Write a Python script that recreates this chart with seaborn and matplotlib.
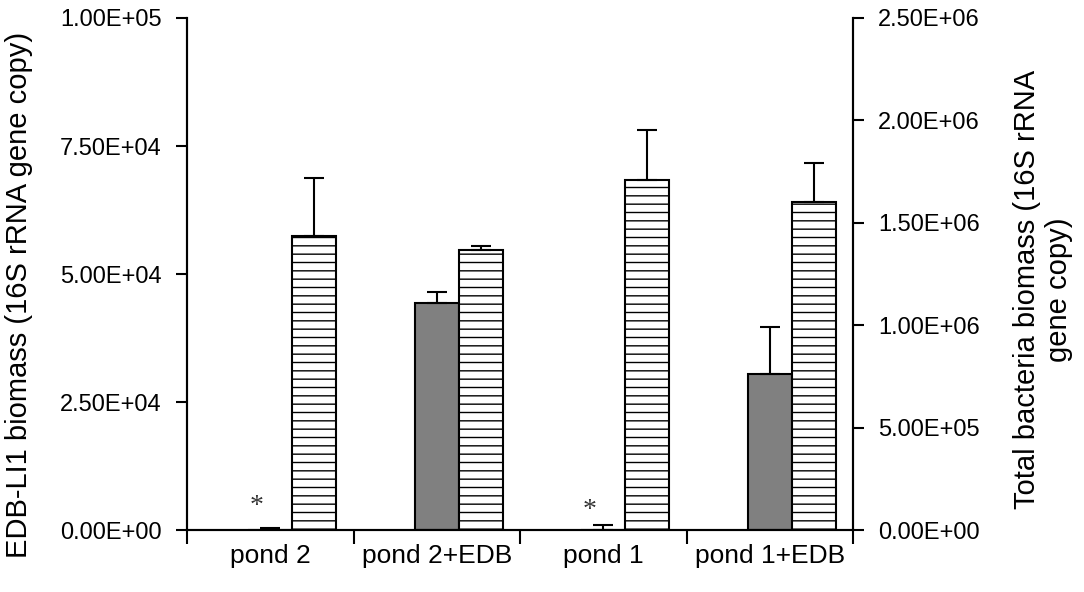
import numpy as np
import pandas as pd
import matplotlib
matplotlib.use("Agg")
import matplotlib.pyplot as plt
from matplotlib.ticker import FixedLocator, FuncFormatter
import seaborn as sns

# data
ponds = ["pond 2", "pond 2+EDB", "pond 1", "pond 1+EDB"]
edb_biomass = [100, 44300, 100, 30500]
edb_err = [300, 2200, 900, 9200]
total_biomass = [1.435e6, 1.367e6, 1.71e6, 1.60e6]
total_err = [0.285e6, 0.02e6, 0.245e6, 0.19e6]
star_ponds = ["pond 2", "pond 1"]
star_levels = [4500, 3900]

sns.set_style("ticks")
plt.rcParams["font.family"] = ["Liberation Sans", "DejaVu Sans"]
for key in ("text.color", "axes.labelcolor", "xtick.color", "ytick.color", "axes.edgecolor"):
    plt.rcParams[key] = "black"

df = pd.DataFrame({"pond": ponds, "edb": edb_biomass, "total": total_biomass})

fig = plt.figure(figsize=(10.84, 5.92), dpi=100)
ax = fig.add_axes([0.1725, 0.1047, 0.6145, 0.8649])
ax2 = ax.twinx()

bar_w = 0.264
sns.barplot(data=df, x="pond", y="edb", color="#808080", width=bar_w,
            edgecolor="black", linewidth=1.5, saturation=1, ax=ax)
sns.barplot(data=df, x="pond", y="total", color="white", width=bar_w,
            edgecolor="black", linewidth=1.5, saturation=1, hatch="--", ax=ax2)
# hatched bars sit just right of the grey ones
for p in ax2.patches:
    p.set_x(p.get_x() + bar_w)

xpos = np.arange(len(ponds))
ax.errorbar(xpos, edb_biomass, yerr=[np.zeros(len(ponds)), edb_err], fmt="none",
            ecolor="black", elinewidth=1.5, capsize=7, capthick=1.5)
ax2.errorbar(xpos + bar_w, total_biomass, yerr=[np.zeros(len(ponds)), total_err],
             fmt="none", ecolor="black", elinewidth=1.5, capsize=7, capthick=1.5)

for name, lvl in zip(star_ponds, star_levels):
    ax.text(ponds.index(name) - 0.08, lvl, "*", ha="center", va="center",
            fontsize=20, family="Liberation Serif", color="#333333")

sci = FuncFormatter(lambda v, _: "{:.2E}".format(v))
ax.set_ylim(0, 1e5)
ax.set_yticks(np.arange(0, 1.0001e5, 2.5e4))
ax.yaxis.set_major_formatter(sci)
ax2.set_ylim(0, 2.5e6)
ax2.set_yticks(np.arange(0, 2.5001e6, 5e5))
ax2.yaxis.set_major_formatter(sci)

ax.set_xlim(-0.5, len(ponds) - 0.5)
ax.xaxis.set_major_locator(FixedLocator(np.arange(-0.5, len(ponds), 1.0)))
ax.xaxis.set_minor_locator(FixedLocator(xpos))
ax.set_xticklabels([""] * (len(ponds) + 1))
ax.set_xticklabels(ponds, minor=True)
ax.tick_params(axis="x", which="major", length=10, width=1.5, direction="out")
ax.tick_params(axis="x", which="minor", length=0, labelsize=19, pad=10)
ax.tick_params(axis="y", length=8, width=1.5, labelsize=17, pad=10)
ax2.tick_params(axis="y", length=8, width=1.5, labelsize=17, pad=10)

ax.set_xlabel("")
ax.set_ylabel("EDB-LI1 biomass (16S rRNA gene copy)", fontsize=21)
ax.yaxis.set_label_coords(-0.231, 0.46)
ax2.set_ylabel("Total bacteria biomass (16S rRNA\ngene copy)", fontsize=21,
               rotation=90)
ax2.yaxis.set_label_coords(1.24, 0.47)

for a in (ax, ax2):
    a.spines["top"].set_visible(False)
    for s in ("left", "right", "bottom"):
        a.spines[s].set_linewidth(1.5)

fig.savefig("out.png", dpi=100)
